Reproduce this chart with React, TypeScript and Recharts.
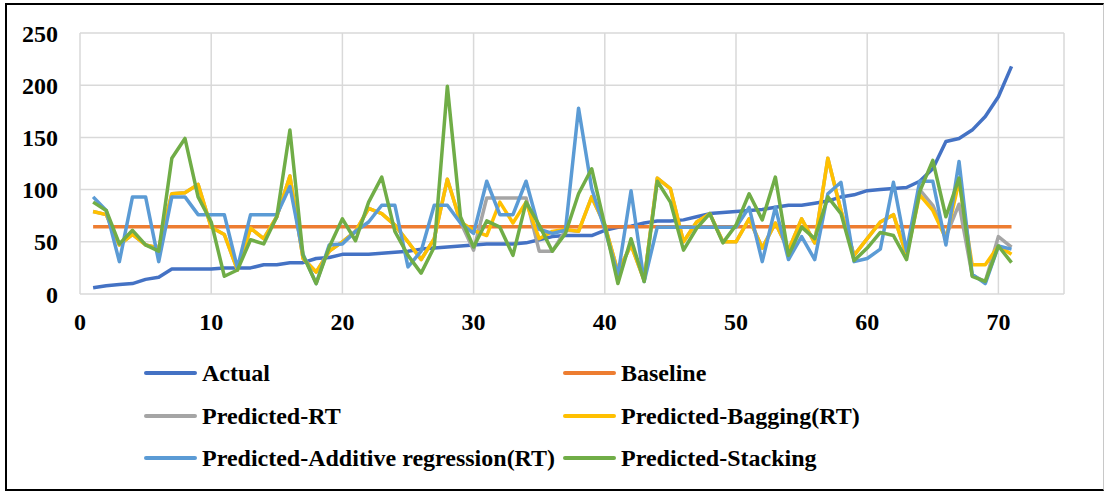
import { CartesianGrid, Line, LineChart, XAxis, YAxis } from "recharts";

// Observation index 1..71 (x axis)
const actual = [
  6, 8, 9, 10, 14, 16, 24, 24, 24, 24,
  25, 25, 25, 28, 28, 30, 30, 34, 35, 38,
  38, 38, 39, 40, 41, 43, 44, 45, 46, 47,
  48, 48, 48, 49, 52, 55, 56, 56, 56, 61,
  64, 65, 68, 70, 70, 71, 74, 77, 78, 79,
  80, 81, 83, 85, 85, 87, 89, 93, 95, 99,
  100, 101, 102, 108, 120, 146, 149, 157, 170, 189, 218,
];

const baselineLevel = 64.5;

const predictedRT = [
  79, 76, 47, 57, 47, 44, 96, 97, 105, 64,
  57, 23, 63, 53, 74, 113, 34, 21, 41, 50,
  60, 82, 77, 66, 50, 33, 53, 110, 69, 42,
  92, 92, 92, 92, 41, 41, 61, 60, 93, 66,
  21, 47, 13, 111, 101, 50, 69, 77, 50, 50,
  72, 44, 68, 42, 72, 49, 130, 80, 37, 53,
  69, 76, 37, 100, 85, 55, 86, 18, 12, 55, 45,
];

const predictedBagging = [
  79, 76, 47, 57, 47, 44, 96, 97, 105, 64,
  57, 23, 63, 53, 74, 113, 34, 21, 41, 50,
  60, 82, 77, 66, 50, 33, 53, 110, 69, 61,
  56, 88, 68, 88, 53, 60, 62, 60, 93, 66,
  21, 47, 13, 111, 101, 50, 69, 77, 50, 50,
  72, 44, 68, 42, 72, 49, 130, 80, 37, 53,
  69, 76, 37, 95, 80, 53, 108, 28, 28, 46, 38,
];

const predictedAdditive = [
  93, 80, 31, 93, 93, 31, 93, 93, 76, 76,
  76, 25, 76, 76, 76, 103, 38, 10, 47, 48,
  60, 69, 85, 85, 26, 41, 85, 85, 68, 58,
  108, 76, 76, 108, 62, 58, 61, 178, 101, 62,
  18, 99, 12, 64, 64, 64, 64, 64, 64, 64,
  83, 31, 83, 33, 55, 33, 96, 107, 31, 34,
  43, 107, 41, 108, 108, 47, 127, 19, 10, 46, 43,
];

const predictedStacking = [
  88, 80, 48, 61, 47, 41, 130, 149, 93, 69,
  17, 23, 52, 48, 74, 157, 37, 10, 45, 72,
  51, 88, 112, 60, 37, 20, 45, 199, 74, 45,
  70, 64, 37, 88, 66, 41, 58, 96, 120, 66,
  10, 53, 12, 108, 88, 42, 63, 77, 49, 66,
  96, 71, 112, 37, 64, 53, 93, 77, 32, 44,
  59, 56, 33, 98, 128, 74, 111, 17, 12, 46, 30,
];

const xTicks = [0, 10, 20, 30, 40, 50, 60, 70];
const yTicks = [0, 50, 100, 150, 200, 250];

const series = [
  { key: "actual", name: "Actual", color: "#4472C4" },
  { key: "baseline", name: "Baseline", color: "#ED7D31" },
  { key: "rt", name: "Predicted-RT", color: "#A5A5A5" },
  { key: "bagging", name: "Predicted-Bagging(RT)", color: "#FFC000" },
  { key: "additive", name: "Predicted-Additive regression(RT)", color: "#5B9BD5" },
  { key: "stacking", name: "Predicted-Stacking", color: "#70AD47" },
];

const rows = actual.map((v, i) => ({
  x: i + 1,
  actual: v,
  baseline: baselineLevel,
  rt: predictedRT[i],
  bagging: predictedBagging[i],
  additive: predictedAdditive[i],
  stacking: predictedStacking[i],
}));

const font = "'Liberation Serif', 'Times New Roman', serif";
const tickStyle = { fill: "#000", fontSize: 24, fontWeight: 700, fontFamily: font };

const legendCols = [144, 563];
const legendRows = [373, 416, 458];

export default function App() {
  return (
    <div
      style={{
        position: "absolute",
        left: 0,
        top: 0,
        width: 1104,
        height: 491,
        background: "#fff",
        overflow: "hidden",
      }}
    >
      <LineChart
        width={1104}
        height={491}
        data={rows}
        margin={{ top: 33, right: 40, bottom: 157, left: 0 }}
      >
        <CartesianGrid stroke="#D9D9D9" strokeWidth={1.5} />
        <XAxis
          type="number"
          dataKey="x"
          domain={[0, 75]}
          ticks={xTicks}
          axisLine={false}
          tickLine={false}
          tick={tickStyle}
          tickMargin={13}
          height={40}
        />
        <YAxis
          type="number"
          domain={[0, 250]}
          ticks={yTicks}
          width={80}
          axisLine={false}
          tickLine={false}
          tick={tickStyle}
          tickMargin={16}
        />
        {series.map((s) => (
          <Line
            key={s.key}
            type="linear"
            dataKey={s.key}
            name={s.name}
            stroke={s.color}
            strokeWidth={3.5}
            strokeLinejoin="round"
            dot={false}
            isAnimationActive={false}
          />
        ))}
      </LineChart>

      {series.map((s, i) => (
        <div
          key={s.key}
          style={{
            position: "absolute",
            left: legendCols[i % 2],
            top: legendRows[Math.floor(i / 2)] - 15,
            height: 30,
            display: "flex",
            alignItems: "center",
            whiteSpace: "nowrap",
          }}
        >
          <span
            style={{
              display: "inline-block",
              width: 53,
              height: 4,
              borderRadius: 2,
              background: s.color,
            }}
          />
          <span
            style={{
              marginLeft: 5,
              fontFamily: font,
              fontSize: 24,
              fontWeight: 700,
              lineHeight: "30px",
              color: "#000",
            }}
          >
            {s.name}
          </span>
        </div>
      ))}

      <div
        style={{
          position: "absolute",
          left: 5,
          top: 3,
          width: 1099,
          height: 488,
          boxSizing: "border-box",
          border: "2px solid #000",
          borderRight: "1px solid #c8c8c8",
          pointerEvents: "none",
        }}
      />
    </div>
  );
}
